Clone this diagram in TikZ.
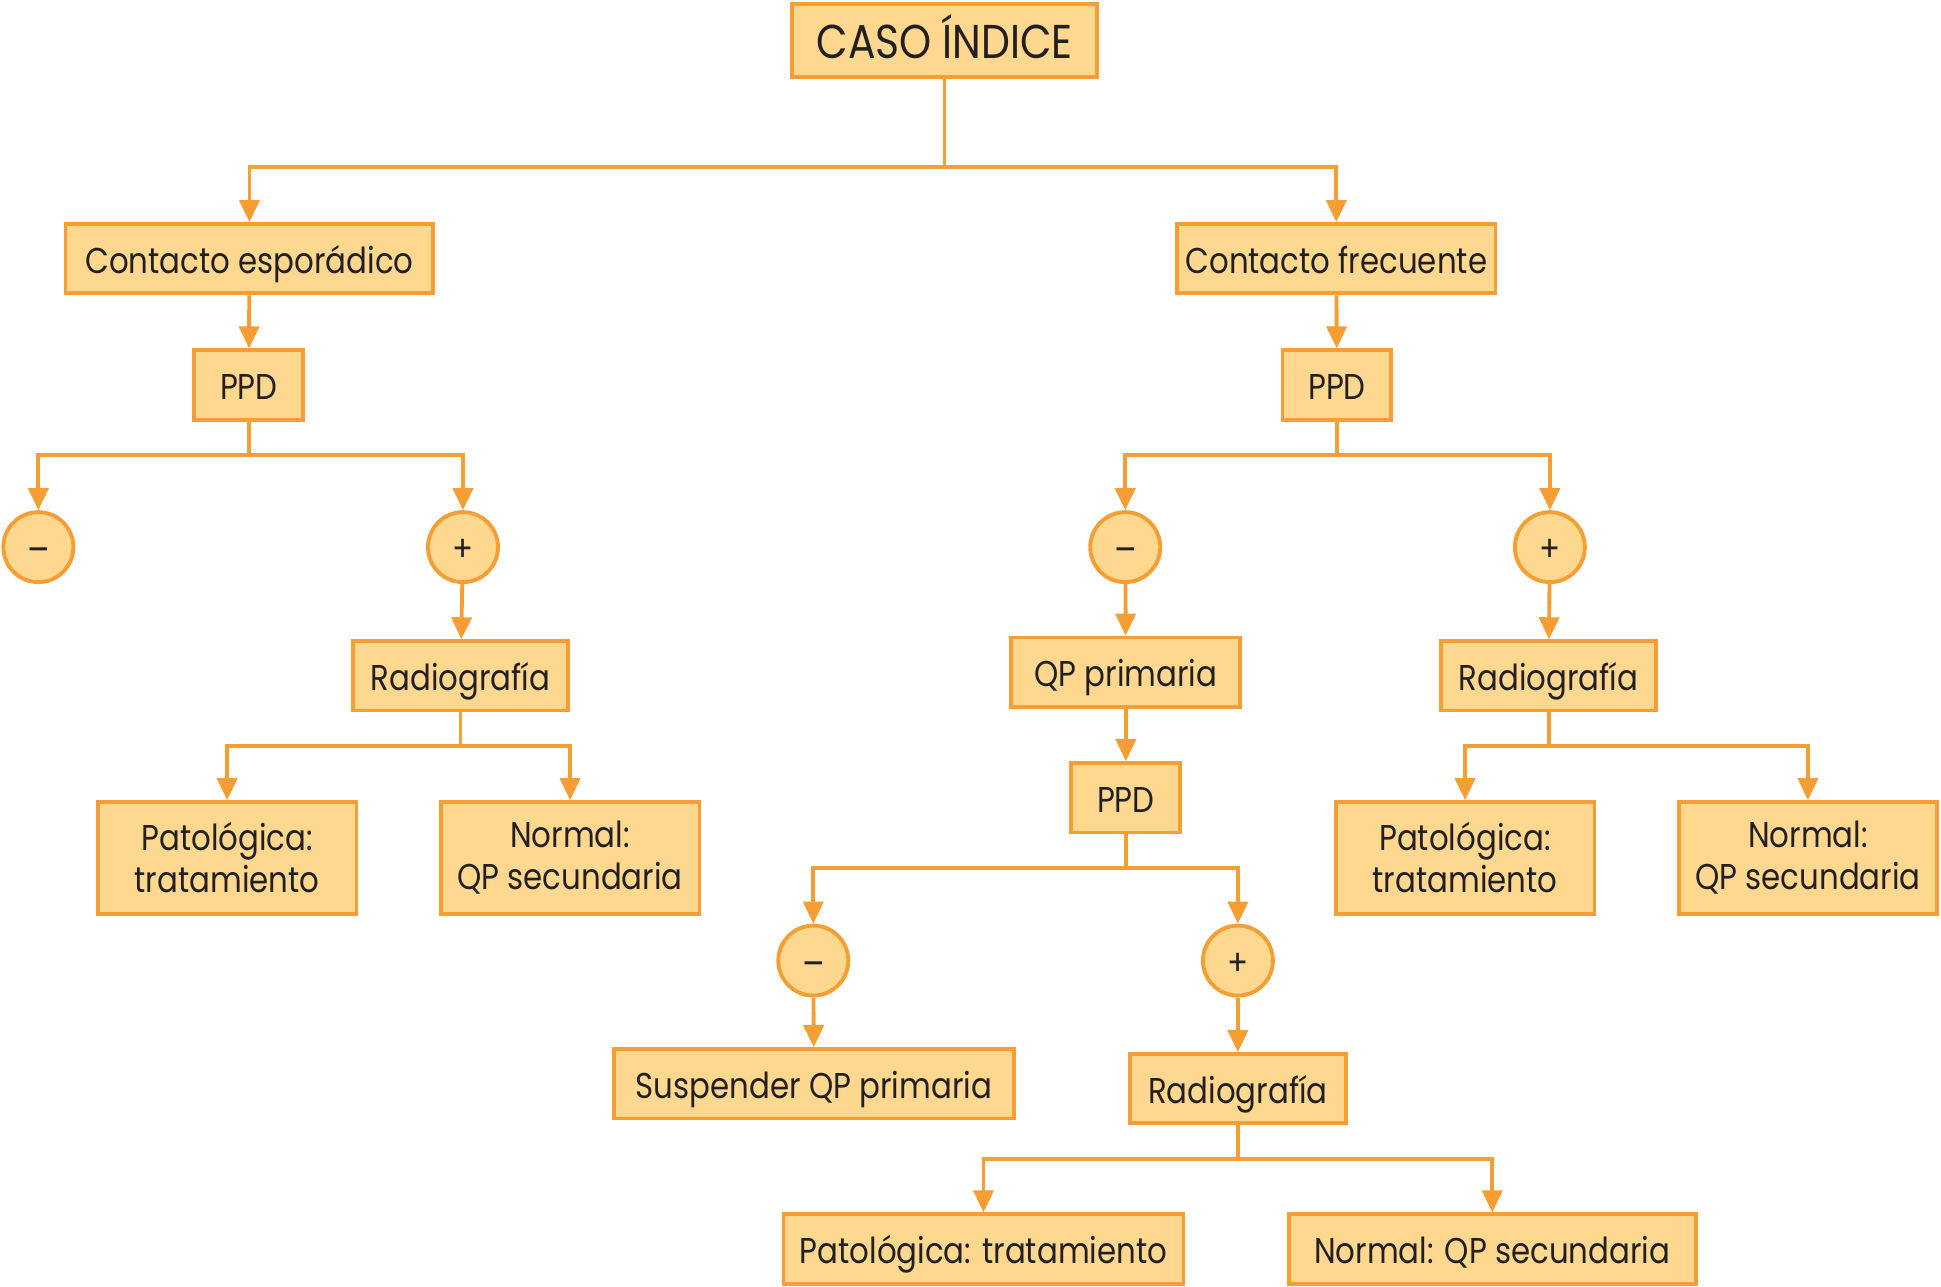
\documentclass[tikz,border=0pt]{standalone}
\usepackage{fontspec}
\setmainfont[FakeStretch=0.86]{Poppins}
\usepackage{tikz}
\usetikzlibrary{arrows.meta}
\usetikzlibrary{positioning}
\definecolor{lineorange}{RGB}{246,158,51}
\definecolor{boxfill}{RGB}{253,216,142}
\definecolor{inkdark}{RGB}{35,31,32}
\tikzset{
    stepbox/.style={
        draw=lineorange,
        fill=boxfill,
        line width=1.1pt,
        minimum height=0.693cm,
        inner sep=1pt,
        text=inkdark,
        align=center,
        text height=0.98em,
        text depth=0.14em,
        font=\fontsize{10.2}{12}\selectfont
    },
    twoline/.style={
        stepbox,
        text height=,
        text depth=,
        minimum height=1.114cm
    },
    signnode/.style={
        draw=lineorange,
        fill=boxfill,
        circle,
        line width=1.1pt,
        minimum size=0.70cm,
        inner sep=0pt,
        text=inkdark,
        text height=0.88em,
        text depth=0.05em,
        font=\fontsize{10.2}{12}\selectfont
    },
    negnode/.style={
        signnode,
        text height=1.0em,
        text depth=0.05em,
        font=\fontsize{11}{12}\selectfont
    },
    link/.style={
        draw=lineorange,
        line width=1.1pt,
        -{Triangle[length=0.22cm, width=0.2cm]}
    }
}

\begin{document}
\begin{tikzpicture}[x=0.01238cm, y=-0.01238cm]
  \useasboundingbox (0,0) rectangle (1568,1039);

  % Root
  \node[stepbox, minimum width=3.045cm, minimum height=0.730cm, text height=1.15em,
        font=\fontsize{13.5}{15}\selectfont] (caso) at (763,33) {CASO ÍNDICE};

  % Contact type
  \node[stepbox, minimum width=3.677cm] (espor) at (201.5,209) {Contacto esporádico};
  \node[stepbox, minimum width=3.182cm] (frec) at (1079.5,209) {Contacto frecuente};

  % First skin tests
  \node[stepbox, minimum width=1.089cm] (ppdL) at (201,311) {PPD};
  \node[stepbox, minimum width=1.089cm] (ppdR) at (1080,311) {PPD};

  % Results of first tests
  \node[negnode] (negL) at (31,442) {\textendash};
  \node[signnode] (posL) at (374,442) {+};
  \node[negnode] (negR) at (909,442) {\textendash};
  \node[signnode] (posR) at (1252,442) {+};

  % Sporadic branch
  \node[stepbox, minimum width=2.154cm] (radL) at (372,546) {Radiografía};
  \node[twoline, minimum width=2.587cm] (patL) at (183.5,693) {Patológica:\\tratamiento};
  \node[twoline, minimum width=2.587cm] (normL) at (460.5,693) {Normal:\\QP secundaria};

  % Frequent branch, positive
  \node[stepbox, minimum width=2.154cm] (radR) at (1251,546) {Radiografía};
  \node[twoline, minimum width=2.587cm] (patR) at (1183.5,693) {Patológica:\\tratamiento};
  \node[twoline, minimum width=2.587cm] (normR) at (1460.5,693) {Normal:\\QP secundaria};

  % Frequent branch, negative
  \node[stepbox, minimum width=2.290cm] (qpp) at (909.5,543) {QP primaria};
  \node[stepbox, minimum width=1.089cm] (ppdM) at (909.5,644.5) {PPD};
  \node[negnode] (negM) at (657,776) {\textendash};
  \node[signnode] (posM) at (1000,776) {+};
  \node[stepbox, minimum width=3.999cm] (susp) at (657.5,875.5) {Suspender QP primaria};
  \node[stepbox, minimum width=2.154cm] (radM) at (1000,879.5) {Radiografía};
  \node[stepbox, minimum width=3.999cm] (patM) at (794.5,1009) {Patológica: tratamiento};
  \node[stepbox, minimum width=4.073cm] (normM) at (1205.5,1009) {Normal: QP secundaria};

  % Connectors
  \draw[link] (caso.south) -- ++(0,71) -| (espor.north);
  \draw[link] (caso.south) -- ++(0,71) -| (frec.north);
  \draw[link] (espor) -- (ppdL);
  \draw[link] (frec) -- (ppdR);

  \draw[link] (ppdL.south) -- ++(0,27) -| (negL.north);
  \draw[link] (ppdL.south) -- ++(0,27) -| (posL.north);
  \draw[link] (posL) -- (radL);
  \draw[link] (radL.south) -- ++(0,27) -| (patL.north);
  \draw[link] (radL.south) -- ++(0,27) -| (normL.north);

  \draw[link] (ppdR.south) -- ++(0,27) -| (negR.north);
  \draw[link] (ppdR.south) -- ++(0,27) -| (posR.north);
  \draw[link] (posR) -- (radR);
  \draw[link] (radR.south) -- ++(0,27) -| (patR.north);
  \draw[link] (radR.south) -- ++(0,27) -| (normR.north);

  \draw[link] (negR) -- (qpp);
  \draw[link] (qpp) -- (ppdM);
  \draw[link] (ppdM.south) -- ++(0,27) -| (negM.north);
  \draw[link] (ppdM.south) -- ++(0,27) -| (posM.north);
  \draw[link] (negM) -- (susp);
  \draw[link] (posM) -- (radM);
  \draw[link] (radM.south) -- ++(0,27) -| (patM.north);
  \draw[link] (radM.south) -- ++(0,27) -| (normM.north);
\end{tikzpicture}
\end{document}
